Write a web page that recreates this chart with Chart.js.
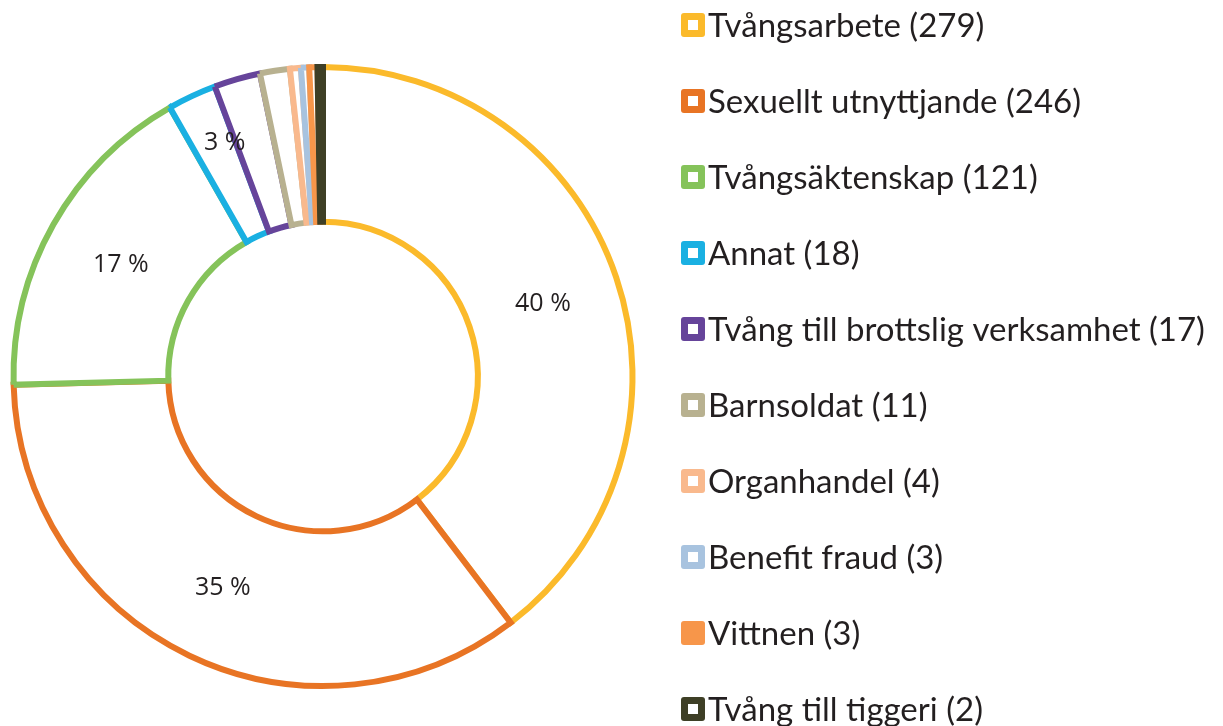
<!DOCTYPE html>
<html>
<head>
<meta charset="utf-8">
<script src="https://cdn.jsdelivr.net/npm/chart.js@4/dist/chart.umd.min.js"></script>
<style>
  html, body { margin: 0; padding: 0; background: #fff; }
  #wrap { width: 1223px; height: 726px; position: relative; }
</style>
</head>
<body>
<div id="wrap"><canvas id="traffickingChart"></canvas></div>
<script>
// categories and counts, in drawing order (clockwise from the top)
const categories = [
    'Tvångsarbete', 'Sexuellt utnyttjande', 'Tvångsäktenskap', 'Annat',
    'Tvång till brottslig verksamhet', 'Barnsoldat', 'Organhandel',
    'Benefit fraud', 'Vittnen', 'Tvång till tiggeri'
];
const counts = [279, 246, 121, 18, 17, 11, 4, 3, 3, 2];
const colors = [
    '#FBBA2B', '#E87424', '#85C35A', '#1AB0E2', '#66449A',
    '#B8B190', '#F9B98D', '#A8C3DF', '#F7964A', '#3E3F26'
];
// which slices carry a percent label
const labelledSlices = [0, 1, 2, 3];

const total = counts.reduce((a, b) => a + b, 0);
const textColor = '#231F20';

// percent labels inside the ring
const pctLabels = {
    id: 'pctLabels',
    afterDatasetsDraw(chart) {
        const ctx = chart.ctx;
        const meta = chart.getDatasetMeta(0);
        ctx.save();
        ctx.font = '25px "Open Sans"';
        ctx.fillStyle = textColor;
        ctx.textAlign = 'center';
        ctx.textBaseline = 'middle';
        labelledSlices.forEach(i => {
            const p = meta.data[i].getCenterPoint();
            // the thin "Annat" slice has its label pushed outwards
            const dy = i === 3 ? -23 : 2;
            ctx.fillText(Math.round(counts[i] / total * 100) + ' %', p.x, p.y + dy);
        });
        ctx.restore();
    }
};

// legend on the right: coloured box with white centre, then the label and count
const sideLegend = {
    id: 'sideLegend',
    afterDraw(chart) {
        const ctx = chart.ctx;
        const x0 = 681, y0 = 25, step = 76, box = 24;
        ctx.save();
        ctx.font = '33px Lato';
        ctx.textBaseline = 'middle';
        categories.forEach((name, i) => {
            const y = y0 + i * step;
            ctx.fillStyle = colors[i];
            ctx.beginPath();
            ctx.roundRect(x0, y - box / 2, box, box, 3);
            ctx.fill();
            if (i !== 8) {
                ctx.fillStyle = '#fff';
                ctx.fillRect(x0 + 7, y - 5, 10, 10);
            }
            ctx.fillStyle = textColor;
            ctx.fillText(name + ' (' + counts[i] + ')', x0 + 27, y + 1);
        });
        ctx.restore();
    }
};

new Chart(document.getElementById('traffickingChart'), {
    type: 'doughnut',
    data: {
        labels: categories,
        datasets: [{
            data: counts,
            backgroundColor: '#fff',
            borderColor: colors,
            borderWidth: 6,
            borderJoinStyle: 'miter',
            hoverOffset: 0
        }]
    },
    options: {
        responsive: true,
        maintainAspectRatio: false,
        animation: false,
        cutout: '50%',
        layout: { padding: { left: 10, right: 587, top: 64, bottom: 37 } },
        plugins: {
            legend: { display: false },
            tooltip: { enabled: false }
        }
    },
    plugins: [pctLabels, sideLegend]
});
</script>
</body>
</html>
